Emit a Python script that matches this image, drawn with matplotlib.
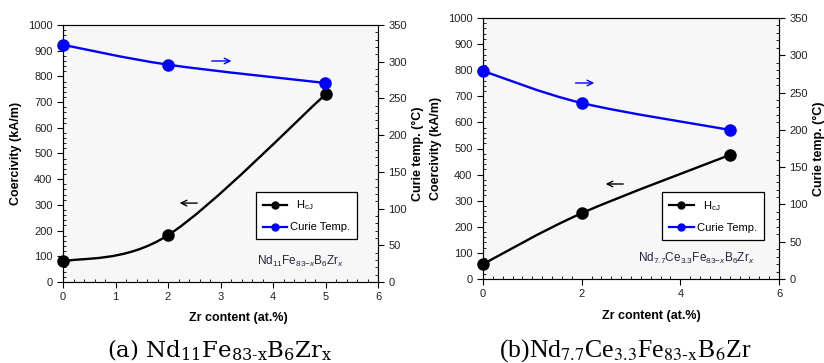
import matplotlib
matplotlib.use("Agg")
import matplotlib.pyplot as plt
from matplotlib.path import Path
from matplotlib.patches import PathPatch
from matplotlib.lines import Line2D
from matplotlib.ticker import MultipleLocator
import numpy as np

plt.rcParams['font.family'] = ['Liberation Sans', 'DejaVu Sans']
plt.rcParams['mathtext.fontset'] = 'custom'
plt.rcParams['mathtext.rm'] = 'Liberation Sans'
plt.rcParams['mathtext.it'] = 'Liberation Sans:italic'
plt.rcParams['mathtext.bf'] = 'Liberation Sans:bold'

# data
zr_a = [0, 2, 5]
hc_a = [80, 182, 730]
tc_a = [323, 296, 271]

zr_b = [0, 2, 5]
hc_b = [57, 252, 475]
tc_b = [279, 236, 200]

left_ticks = list(range(0, 1001, 100))
right_ticks = list(range(0, 351, 50))

BLUE = '#0000ff'


def smooth_path(ax, xs, ys, color):
    """Catmull-Rom style smooth curve through points via cubic Bezier."""
    xs = np.asarray(xs, float)
    ys = np.asarray(ys, float)
    n = len(xs)
    verts = [(xs[0], ys[0])]
    codes = [Path.MOVETO]
    t = 1.0 / 6.0
    for i in range(n - 1):
        p0 = (xs[i - 1], ys[i - 1]) if i > 0 else (xs[i], ys[i])
        p1 = (xs[i], ys[i])
        p2 = (xs[i + 1], ys[i + 1])
        p3 = (xs[i + 2], ys[i + 2]) if i + 2 < n else (xs[i + 1], ys[i + 1])
        c1 = (p1[0] + (p2[0] - p0[0]) * t, p1[1] + (p2[1] - p0[1]) * t)
        c2 = (p2[0] - (p3[0] - p1[0]) * t, p2[1] - (p3[1] - p1[1]) * t)
        verts += [c1, c2, p2]
        codes += [Path.CURVE4] * 3
    patch = PathPatch(Path(verts, codes), fill=False, edgecolor=color, lw=1.7,
                      zorder=3)
    ax.add_patch(patch)


fig = plt.figure(figsize=(8.24, 3.63), dpi=100)

panels = [
    dict(rect=[63 / 824, 1 - 282 / 363, (378 - 63) / 824, (282 - 25) / 363],
         zr=zr_a, hc=hc_a, tc=tc_a, xstep=1,
         comp=r'Nd$_{11}$Fe$_{83\mathrm{-}x}$B$_{6}$Zr$_{x}$', comp_xy=(4.53, 80),
         blue_arrow=((2.78, 860), (3.26, 860)), black_arrow=((2.61, 307), (2.17, 307)),
         leg_rect=(249, 186, 364, 245),
         title=r'(a) Nd$_{11}$Fe$_{83\text{-}\mathrm{x}}$B$_{6}$Zr$_{\mathrm{x}}$', title_x=220,
         title_family='DejaVu Serif', title_math='dejavuserif', title_size=16.5,
         xlabel_x=238, xlabel_y=318),
    dict(rect=[483 / 824, 1 - 279 / 363, (779 - 483) / 824, (279 - 18) / 363],
         zr=zr_b, hc=hc_b, tc=tc_b, xstep=2,
         comp=r'Nd$_{7.7}$Ce$_{3.3}$Fe$_{83\mathrm{-}x}$B$_{6}$Zr$_{x}$', comp_xy=(4.32, 80),
         blue_arrow=((1.82, 751), (2.31, 751)), black_arrow=((2.90, 364), (2.43, 364)),
         leg_rect=(658, 191, 768, 241),
         title=r'(b)Nd$_{7.7}$Ce$_{3.3}$Fe$_{83\text{-}\mathrm{x}}$B$_{6}$Zr', title_x=625,
         title_family='Liberation Serif', title_math='stix', title_size=18.5,
         xlabel_x=651, xlabel_y=316),
]

for p in panels:
    ax = fig.add_axes(p['rect'])
    ax.set_facecolor('#f7f7f7')
    ax.set_xlim(0, 6)
    ax.set_ylim(0, 1000)
    ax.set_xticks(np.arange(0, 6.01, p['xstep']))
    ax.xaxis.set_minor_locator(MultipleLocator(0.2))
    ax.yaxis.set_minor_locator(MultipleLocator(20))
    ax.set_yticks(left_ticks)
    ax.tick_params(axis='both', which='major', direction='out', length=4,
                   labelsize=8, width=0.8, labelcolor='#222222')
    ax.tick_params(axis='both', which='minor', direction='in', length=2.5, width=0.6)
    for s in ax.spines.values():
        s.set_color('#555555')
        s.set_linewidth(0.8)
    ax.spines['top'].set_color('#444444')

    ax2 = ax.twinx()
    ax2.set_ylim(0, 350)
    ax2.set_yticks(right_ticks)
    ax2.yaxis.set_minor_locator(MultipleLocator(10))
    ax2.tick_params(axis='y', which='major', direction='out', length=4,
                    labelsize=8, width=0.8, labelcolor='#222222')
    ax2.tick_params(axis='y', which='minor', direction='in', length=2.5, width=0.6)

    smooth_path(ax, p['zr'], p['hc'], 'black')
    ax.plot(p['zr'], p['hc'], 'o', color='black', ms=8, zorder=4, clip_on=False)
    smooth_path(ax2, p['zr'], p['tc'], BLUE)
    ax2.plot(p['zr'], p['tc'], 'o', color=BLUE, ms=8, zorder=4, clip_on=False)

    ax.set_ylabel('Coercivity (kA/m)', fontsize=9, fontweight='bold', labelpad=4)
    ax2.set_ylabel('Curie temp. (\u00b0C)', fontsize=9, fontweight='bold', labelpad=4)

    ax.annotate('', xy=p['blue_arrow'][1], xytext=p['blue_arrow'][0],
                arrowprops=dict(arrowstyle='->', color=BLUE, lw=1.0))
    ax.annotate('', xy=p['black_arrow'][1], xytext=p['black_arrow'][0],
                arrowprops=dict(arrowstyle='->', color='black', lw=1.0))

    ax.text(p['comp_xy'][0], p['comp_xy'][1], p['comp'], ha='center', va='center',
            fontsize=8.5, color='#2a2040')

    # legend
    x0, y0, x1, y1 = p['leg_rect']
    lx = x0 / 824
    ly = 1 - y1 / 363
    lw = (x1 - x0) / 824
    lh = (y1 - y0) / 363
    handles = [Line2D([], [], color='black', marker='o', ms=5, lw=1.6),
               Line2D([], [], color=BLUE, marker='o', ms=5, lw=1.6)]
    leg = fig.legend(handles, [r'  H$_{\mathrm{cJ}}$', 'Curie Temp.'],
                     loc='center', bbox_to_anchor=(lx, ly, lw, lh),
                     fontsize=8, frameon=True, fancybox=False, edgecolor='black',
                     facecolor='white', framealpha=1, handlelength=2.2,
                     handletextpad=0.3, labelspacing=0.9, borderpad=0.6)
    leg.get_frame().set_linewidth(0.9)

    fig.text(p['xlabel_x'] / 824, 1 - p['xlabel_y'] / 363, 'Zr content (at.%)',
             ha='center', va='center', fontsize=9, fontweight='bold')
    fig.text(p['title_x'] / 824, 1 - 357 / 363, p['title'], ha='center', va='baseline',
             fontsize=p['title_size'], family=p['title_family'],
             math_fontfamily=p['title_math'])

fig.savefig('out.png', dpi=100, facecolor='white')
